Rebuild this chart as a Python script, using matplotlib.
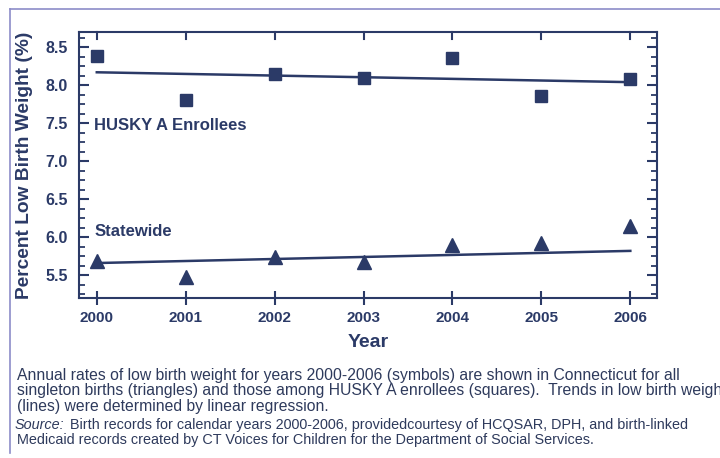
import numpy as np
import matplotlib
matplotlib.use("Agg")
import matplotlib.pyplot as plt
from matplotlib.ticker import MultipleLocator
from matplotlib.lines import Line2D

years = [2000, 2001, 2002, 2003, 2004, 2005, 2006]
husky = [8.39, 7.81, 8.15, 8.09, 8.36, 7.86, 8.08]
statewide = [5.69, 5.47, 5.74, 5.68, 5.90, 5.93, 6.15]
trend_years = [2000, 2006]
husky_trend = [8.17, 8.04]
state_trend = [5.66, 5.82]
y_ticks = [5.5, 6.0, 6.5, 7.0, 7.5, 8.0, 8.5]

navy = "#2b3a67"
frame_col = "#8c8cc8"
font = ["Liberation Sans", "DejaVu Sans"]

fig = plt.figure(figsize=(7.2, 4.58), dpi=100)
W, H = 720, 458
ax = fig.add_axes([79 / W, 1 - 298 / H, (657 - 79) / W, (298 - 32) / H])

ax.plot(trend_years, husky_trend, color=navy, lw=1.8, zorder=2)
ax.plot(trend_years, state_trend, color=navy, lw=1.8, zorder=2)
ax.plot(years, husky, ls="none", marker="s", ms=9, color=navy, zorder=3)
ax.plot(years, statewide, ls="none", marker="^", ms=9.5, color=navy, zorder=3)

ax.set_xlim(1999.80, 2006.30)
ax.set_ylim(5.20, 8.70)
ax.set_xticks(years)
ax.set_xticklabels([str(y) for y in years], fontsize=11, fontweight="bold",
                   color=navy, family=font)
ax.set_yticks(y_ticks)
ax.set_yticklabels([f"{v:.1f}" for v in y_ticks], fontsize=11.5,
                   fontweight="bold", color=navy, family=font)
ax.yaxis.set_minor_locator(MultipleLocator(0.125))
ax.tick_params(axis="y", which="major", direction="in", length=7, width=1.5,
               color=navy, left=True, right=True, pad=8)
ax.tick_params(axis="y", which="minor", direction="in", length=4, width=1.3,
               color=navy, left=True, right=True)
ax.tick_params(axis="x", which="major", direction="inout", length=10, width=1.5,
               color=navy, top=False, bottom=True, pad=4)
for yr in years:
    ax.add_line(Line2D([yr, yr], [1.0, 0.975], transform=ax.get_xaxis_transform(),
                       color=navy, lw=1.5, clip_on=False))
for s in ax.spines.values():
    s.set_color(navy)
    s.set_linewidth(1.5)

ax.set_xlabel("Year", fontsize=14, fontweight="bold", color=navy,
              family=font, labelpad=7)
ax.set_ylabel("Percent Low Birth Weight (%)", fontsize=13.8, fontweight="bold",
              color=navy, family=font, labelpad=9)

ax.text(1999.97, 7.47, "HUSKY A Enrollees", fontsize=12, fontweight="bold",
        color=navy, family=font, va="center", ha="left")
ax.text(1999.97, 6.07, "Statewide", fontsize=12, fontweight="bold",
        color=navy, family=font, va="center", ha="left")

# frame lines
fig.add_artist(Line2D([10 / W, 1.0], [1 - 9 / H, 1 - 9 / H], color=frame_col, lw=1.2))
fig.add_artist(Line2D([10 / W, 10 / W], [1 - 9 / H, 1 - 453 / H], color=frame_col, lw=1.2))

cap_font = ["Liberation Sans", "DejaVu Sans"]
cap_col = "#2e3a5c"
cs = 11.3
ss = 10.4
lines = [
    ("Annual rates of low birth weight for years 2000-2006 (symbols) are shown in Connecticut for all", 375.5),
    ("singleton births (triangles) and those among HUSKY A enrollees (squares).  Trends in low birth weight", 391),
    ("(lines) were determined by linear regression.", 406.5),
]
for t, y in lines:
    fig.text(17 / W, 1 - y / H, t, fontsize=cs, color=cap_col, family=cap_font,
             va="center", ha="left")
fig.text(15 / W, 1 - 425 / H, "Source:", fontsize=ss, color=cap_col,
         family=cap_font, style="italic", va="center", ha="left")
fig.text(70 / W, 1 - 425 / H,
         "Birth records for calendar years 2000-2006, providedcourtesy of HCQSAR, DPH, and birth-linked",
         fontsize=ss, color=cap_col, family=cap_font, va="center", ha="left")
fig.text(17 / W, 1 - 440 / H,
         "Medicaid records created by CT Voices for Children for the Department of Social Services.",
         fontsize=ss, color=cap_col, family=cap_font, va="center", ha="left")

fig.savefig("out.png", dpi=100)
